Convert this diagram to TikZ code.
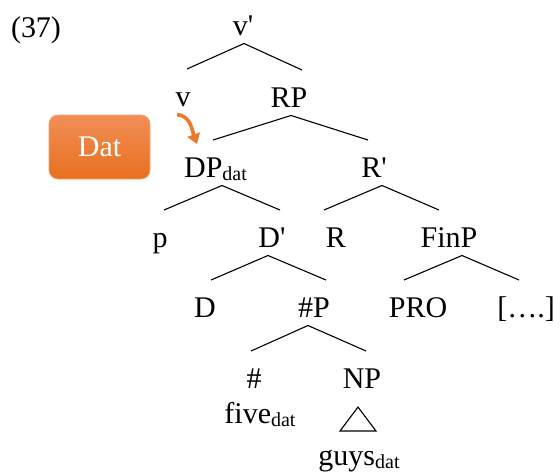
\documentclass[tikz,border=0pt]{standalone}
\usepackage{fontspec}
\setmainfont{Liberation Serif}
\usepackage{tikz}
\usetikzlibrary{arrows.meta}
\definecolor{datorange}{HTML}{EC7A2E}
\definecolor{dattop}{HTML}{F18E57}
\definecolor{datbottom}{HTML}{E8701E}
\definecolor{datedge}{HTML}{F4A271}
\newcommand{\dsub}[1]{\raisebox{-3.5pt}{\fontsize{20}{20}\selectfont #1}}

\begin{document}
\begin{tikzpicture}[x=1pt,y=-1pt,font=\fontsize{30}{36}\selectfont,>=Latex,
  cat/.style={inner xsep=0pt,inner ysep=8.5pt,outer sep=0pt,text height=28.5pt,text depth=0pt,anchor=base},
  word/.style={inner sep=0pt,outer sep=0pt,anchor=base},
  branch/.style={line width=1.1pt},
  datbox/.style={rounded corners=9pt,minimum width=101pt,minimum height=64pt,inner sep=0pt,top color=dattop,bottom color=datbottom,draw=datedge,line width=0.8pt,text=white},
  varrow/.style={draw=datorange,line width=3.6pt,-{Triangle[length=10pt,width=13pt]}}]
\useasboundingbox (0,0) rectangle (560,472);
\node[word] (ex) at (36,37) {(37)};
\node[cat] (vbar) at (243,35) {v\textquotesingle};
\node[cat] (v) at (183,106) {v};
\node[cat] (RP) at (289,107) {RP};
\node[cat] (DP) at (215.5,177) {DP\dsub{dat}};
\node[cat] (Rbar) at (374,177) {R\textquotesingle};
\node[cat] (p) at (160,247) {p};
\node[cat] (Dbar) at (272,247) {D\textquotesingle};
\node[cat] (R) at (336,247) {R};
\node[cat] (FinP) at (449,247) {FinP};
\node[cat] (D) at (205,317) {D};
\node[cat] (NumP) at (314,317) {\#P};
\node[cat] (PRO) at (418,317) {PRO};
\node[cat] (dots) at (526,317) {[….]};
\node[cat] (num) at (254,388) {\#};
\node[cat] (NP) at (362,388) {NP};
\node[word] (five) at (260,423) {five\dsub{dat}};
\node[word] (guys) at (359,465) {guys\dsub{dat}};
\node[datbox] (dat) at (99.5,147) {Dat};
% branches
\draw[branch] ([xshift=4pt]v.north) -- ([xshift=1pt]vbar.south) -- ([xshift=13pt]RP.north);
\draw[branch] ([xshift=-2.5pt]DP.north) -- ([xshift=2pt]RP.south) -- ([xshift=-6pt]Rbar.north);
\draw[branch] ([xshift=4pt]p.north) -- ([xshift=6.5pt]DP.south) -- ([xshift=8pt]Dbar.north);
\draw[branch] ([xshift=-12pt]R.north) -- ([xshift=8pt]Rbar.south) -- ([xshift=-10pt]FinP.north);
\draw[branch] ([xshift=6pt]D.north) -- ([xshift=-4pt]Dbar.south) -- ([xshift=12pt]NumP.north);
\draw[branch] ([xshift=-14pt]PRO.north) -- ([xshift=13pt]FinP.south) -- ([xshift=-7pt]dots.north);
\draw[branch] ([xshift=-3pt]num.north) -- ([xshift=-6pt]NumP.south) -- ([xshift=4pt]NP.north);
% roof over the NP
\coordinate (roof) at ([xshift=-4pt,yshift=-10.5pt]NP.south);
\draw[branch] (roof) -- ++(-18,24) -- ++(36,0) -- cycle;
% movement arrow
\draw[varrow] ([xshift=-6pt]v.south) to[out=-5,in=110] ([xshift=-18.5pt,yshift=-4pt]DP.north);
\end{tikzpicture}
\end{document}
